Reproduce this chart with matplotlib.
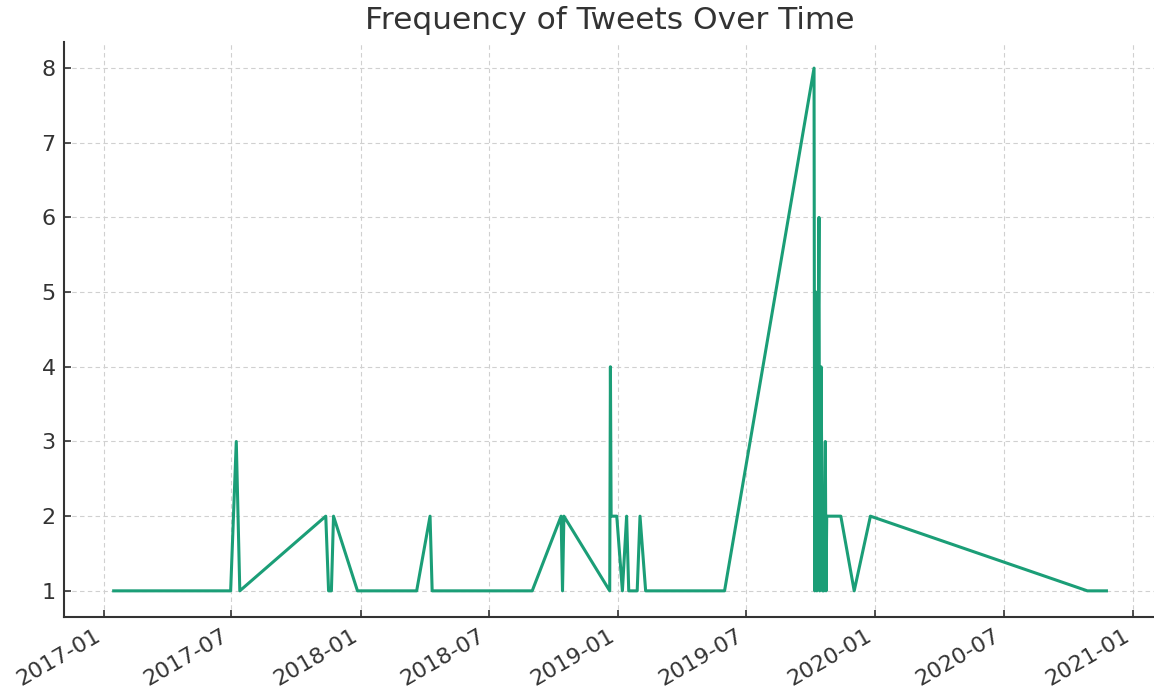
import numpy as np
import pandas as pd
import matplotlib
matplotlib.use("Agg")
import matplotlib.pyplot as plt
import matplotlib.dates as mdates

# dates with tweets and the number of tweets on each
dates = [
    "2017-01-15", "2017-06-30", "2017-07-08", "2017-07-13", "2017-11-12",
    "2017-11-16", "2017-11-20", "2017-11-23", "2017-12-27", "2018-03-21",
    "2018-04-09", "2018-04-12", "2018-09-01", "2018-10-12", "2018-10-14",
    "2018-10-16", "2018-12-20", "2018-12-21", "2018-12-22", "2018-12-30",
    "2019-01-07", "2019-01-13", "2019-01-16", "2019-01-28", "2019-02-01",
    "2019-02-09", "2019-06-01", "2019-10-06", "2019-10-07", "2019-10-09",
    "2019-10-10", "2019-10-13", "2019-10-14", "2019-10-16", "2019-10-18",
    "2019-10-20", "2019-10-22", "2019-10-23", "2019-10-24", "2019-11-13",
    "2019-12-02", "2019-12-25", "2020-10-28", "2020-11-24",
]
counts = [
    1, 1, 3, 1, 2,
    1, 1, 2, 1, 1,
    2, 1, 1, 2, 1,
    2, 1, 4, 2, 2,
    1, 2, 1, 1, 2,
    1, 1, 8, 1, 5,
    1, 6, 1, 4, 1,
    1, 3, 1, 2, 2,
    1, 2, 1, 1,
]

text_color = "#333333"

fig = plt.figure(figsize=(11.54, 6.97), dpi=100)
ax = fig.add_axes([0.0555, 0.1148, 0.9463, 0.825])

ax.plot(pd.to_datetime(dates), counts, color="#1b9e77", linewidth=2.2)

# axis formatting
ax.xaxis.set_major_locator(mdates.MonthLocator(bymonth=[1, 7]))
ax.xaxis.set_major_formatter(mdates.DateFormatter("%Y-%m"))
plt.setp(ax.get_xticklabels(), rotation=30, ha="right")

ax.tick_params(direction="in", length=5, width=1.2, labelsize=16,
               colors=text_color, pad=6)
ax.grid(True, linestyle=(0, (4, 3)), color="#d0d0d0", linewidth=0.8)
ax.set_axisbelow(True)

for side in ["top", "right"]:
    ax.spines[side].set_visible(False)
for side in ["left", "bottom"]:
    ax.spines[side].set_color(text_color)
    ax.spines[side].set_linewidth(1.5)

ax.set_title("Frequency of Tweets Over Time", fontsize=22.5, color=text_color, pad=9)

fig.savefig("out.png", dpi=100)
